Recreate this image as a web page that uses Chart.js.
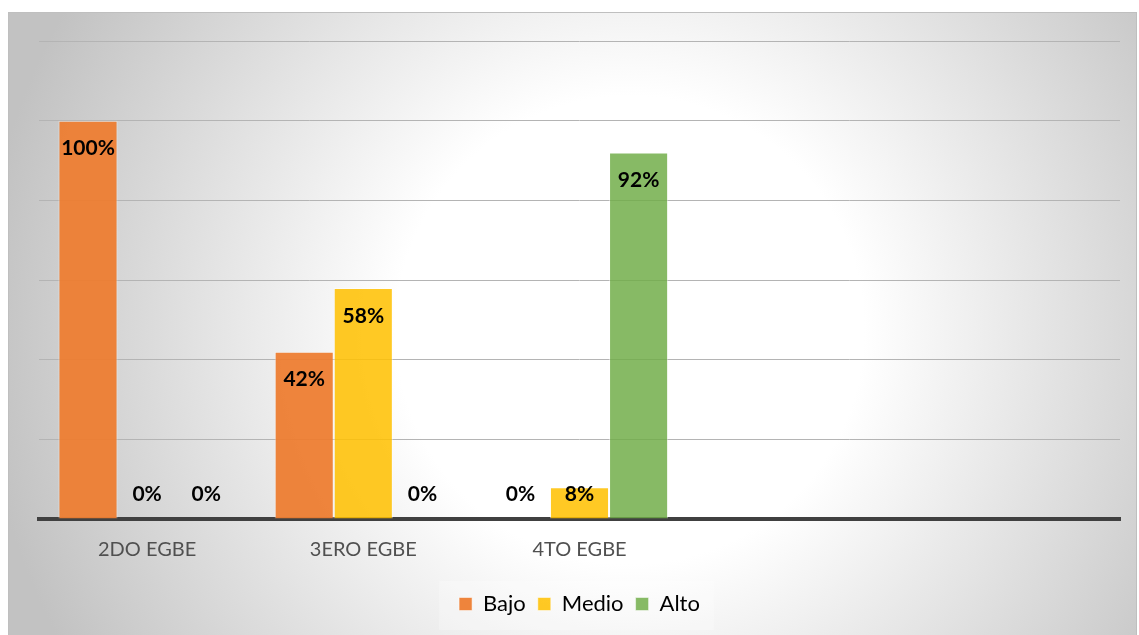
<!DOCTYPE html>
<html>
<head>
<meta charset="utf-8">
<script src="https://cdn.jsdelivr.net/npm/chart.js@4.4.1/dist/chart.umd.min.js"></script>
<style>
  html, body { margin: 0; padding: 0; background: #fff; }
  #wrap { width: 1139px; height: 635px; position: relative; }
</style>
</head>
<body>
<div id="wrap"><canvas id="chart"></canvas></div>
<script>
// chart values
const categories = ['2DO EGBE', '3ERO EGBE', '4TO EGBE', '', ''];
const bajo  = [100, 42, 0, null, null];
const medio = [0, 58, 8, null, null];
const alto  = [0, 0, 92, null, null];
const seriesNames = ['Bajo', 'Medio', 'Alto'];

// background: white frame, radial grey gradient, thin border
const backdrop = {
  id: 'backdrop',
  beforeDraw(chart) {
    const ctx = chart.ctx;
    ctx.save();
    ctx.fillStyle = '#ffffff';
    ctx.fillRect(0, 0, chart.width, chart.height);
    const g = ctx.createRadialGradient(630, 330, 0, 630, 330, 650);
    g.addColorStop(0, '#ffffff');
    g.addColorStop(0.36, '#ffffff');
    g.addColorStop(1, '#c2c2c2');
    ctx.fillStyle = g;
    ctx.fillRect(8, 12, 1128, 630);
    ctx.strokeStyle = '#bfbfbf';
    ctx.lineWidth = 1;
    ctx.strokeRect(8.5, 12.5, 1128, 630);
    // soft panel behind the legend items
    const boxes = chart.legend && chart.legend.legendHitBoxes;
    if (boxes && boxes.length) {
      const l = Math.min(...boxes.map(b => b.left)) - 20;
      const r = Math.max(...boxes.map(b => b.left + b.width)) + 14;
      ctx.fillStyle = 'rgba(255,255,255,0.25)';
      ctx.fillRect(l, chart.legend.top, r - l, 630 - chart.legend.top);
    }
    ctx.restore();
  }
};

// percentage labels near the top of each bar
const valueLabels = {
  id: 'valueLabels',
  afterDatasetsDraw(chart) {
    const ctx = chart.ctx;
    const base = chart.scales.y.getPixelForValue(0);
    ctx.save();
    ctx.font = 'bold 21px Lato';
    ctx.fillStyle = '#000000';
    ctx.textAlign = 'center';
    ctx.textBaseline = 'middle';
    chart.data.datasets.forEach((ds, i) => {
      chart.getDatasetMeta(i).data.forEach((bar, j) => {
        const v = ds.data[j];
        if (v === null) return;
        const y = Math.min(bar.y + 28, base - 25);
        ctx.fillText(v + '%', bar.x, y);
      });
    });
    ctx.restore();
  }
};

function dataset(label, data, color) {
  return {
    label: label,
    data: data,
    backgroundColor: color,
    borderColor: 'rgba(255,255,255,0.45)',
    borderWidth: c => (c.raw ? 1 : 0),
    borderSkipped: 'bottom'
  };
}

new Chart(document.getElementById('chart'), {
  type: 'bar',
  data: {
    labels: categories,
    datasets: [
      dataset(seriesNames[0], bajo, 'rgba(237,125,49,0.95)'),
      dataset(seriesNames[1], medio, 'rgba(255,192,0,0.86)'),
      dataset(seriesNames[2], alto, 'rgba(112,173,71,0.84)')
    ]
  },
  options: {
    responsive: true,
    maintainAspectRatio: false,
    animation: false,
    layout: { padding: { left: 39, right: 19, top: 41, bottom: 10 } },
    datasets: { bar: { categoryPercentage: 0.82, barPercentage: 1 } },
    scales: {
      x: {
        grid: { display: false, drawTicks: false },
        border: { display: true, color: '#404040', width: 4 },
        ticks: { color: '#505050', font: { family: 'Lato', size: 20 }, padding: 19 },
        afterFit(scale) { scale.height = 62; }
      },
      y: {
        min: 0,
        max: 120,
        ticks: { display: false, stepSize: 20 },
        grid: { color: '#b4b4b4', lineWidth: 1, drawTicks: false },
        border: { display: false }
      }
    },
    plugins: {
      legend: {
        position: 'bottom',
        labels: {
          boxWidth: 13,
          boxHeight: 13,
          color: '#404040',
          font: { family: 'Lato', size: 22 },
          padding: 12,
          generateLabels(chart) {
            return chart.data.datasets.map((ds, i) => ({
              text: ds.label,
              fillStyle: ds.backgroundColor,
              strokeStyle: 'rgba(255,255,255,0.5)',
              lineWidth: 1,
              datasetIndex: i
            }));
          }
        }
      },
      tooltip: { enabled: false }
    }
  },
  plugins: [backdrop, valueLabels]
});
</script>
</body>
</html>
